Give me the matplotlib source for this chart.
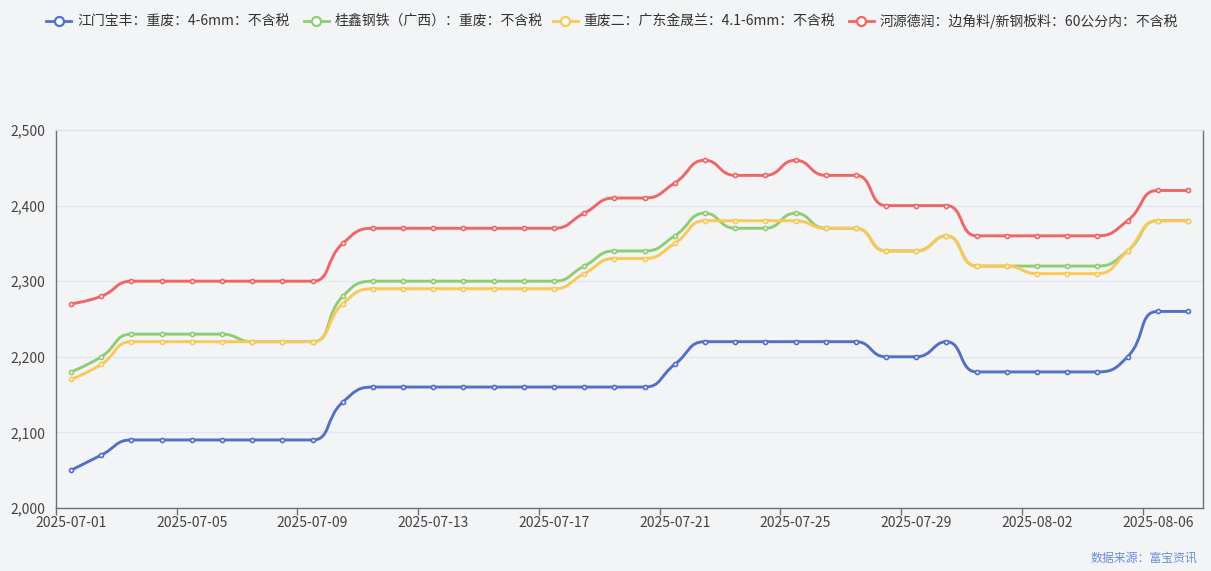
import numpy as np
import pandas as pd
import matplotlib
matplotlib.use('Agg')
import matplotlib.pyplot as plt
from matplotlib.path import Path
from matplotlib.patches import PathPatch
from matplotlib.lines import Line2D

plt.rcParams['font.family'] = ['Noto Sans CJK SC', 'DejaVu Sans']

# 数据
dates = pd.date_range('2025-07-01', '2025-08-07').strftime('%Y-%m-%d').tolist()

series_names = [
    '江门宝丰：重废：4-6mm：不含税',
    '桂鑫钢铁（广西）：重废：不含税',
    '重废二：广东金晟兰：4.1-6mm：不含税',
    '河源德润：边角料/新钢板料：60公分内：不含税',
]

jiangmen = [2050, 2070, 2090, 2090, 2090, 2090, 2090, 2090, 2090, 2140,
            2160, 2160, 2160, 2160, 2160, 2160, 2160, 2160, 2160, 2160,
            2190, 2220, 2220, 2220, 2220, 2220, 2220, 2200, 2200, 2220,
            2180, 2180, 2180, 2180, 2180, 2200, 2260, 2260]
guixin = [2180, 2200, 2230, 2230, 2230, 2230, 2220, 2220, 2220, 2280,
          2300, 2300, 2300, 2300, 2300, 2300, 2300, 2320, 2340, 2340,
          2360, 2390, 2370, 2370, 2390, 2370, 2370, 2340, 2340, 2360,
          2320, 2320, 2320, 2320, 2320, 2340, 2380, 2380]
zhongfei2 = [2170, 2190, 2220, 2220, 2220, 2220, 2220, 2220, 2220, 2270,
             2290, 2290, 2290, 2290, 2290, 2290, 2290, 2310, 2330, 2330,
             2350, 2380, 2380, 2380, 2380, 2370, 2370, 2340, 2340, 2360,
             2320, 2320, 2310, 2310, 2310, 2340, 2380, 2380]
heyuan = [2270, 2280, 2300, 2300, 2300, 2300, 2300, 2300, 2300, 2350,
          2370, 2370, 2370, 2370, 2370, 2370, 2370, 2390, 2410, 2410,
          2430, 2460, 2440, 2440, 2460, 2440, 2440, 2400, 2400, 2400,
          2360, 2360, 2360, 2360, 2360, 2380, 2420, 2420]

colors = ['#5470c6', '#91cc75', '#fac858', '#ee6666']
all_series = [jiangmen, guixin, zhongfei2, heyuan]

W, H = 1211, 571
bg = '#f3f4f6'


# 仿 echarts 的平滑曲线（贝塞尔控制点）
def smooth_path(xs, ys, sx, sy, smooth=0.5):
    X = np.asarray(xs, float) * sx
    Y = np.asarray(ys, float) * sy
    n = len(X)
    verts = [(X[0], Y[0])]
    codes = [Path.MOVETO]
    cpx0, cpy0 = X[0], Y[0]
    for k in range(1, n):
        x, y = X[k], Y[k]
        if k == n - 1:
            cpx1, cpy1 = x, y
            ncx, ncy = x, y
        else:
            px, py = X[k - 1], Y[k - 1]
            nx, ny = X[k + 1], Y[k + 1]
            vx, vy = nx - px, ny - py
            lp = np.hypot(x - px, y - py)
            ln = np.hypot(nx - x, ny - y)
            r = ln / (ln + lp)
            ncx = x + vx * smooth * r
            ncy = y + vy * smooth * r
            ncx = min(max(ncx, min(x, nx)), max(x, nx))
            ncy = min(max(ncy, min(y, ny)), max(y, ny))
            vx, vy = ncx - x, ncy - y
            cpx1 = x - vx * lp / ln
            cpy1 = y - vy * lp / ln
            cpx1 = min(max(cpx1, min(x, px)), max(x, px))
            cpy1 = min(max(cpy1, min(y, py)), max(y, py))
            vx, vy = x - cpx1, y - cpy1
            ncx = x + vx * ln / lp
            ncy = y + vy * ln / lp
        verts += [(cpx0, cpy0), (cpx1, cpy1), (x, y)]
        codes += [Path.CURVE4] * 3
        cpx0, cpy0 = ncx, ncy
    verts = np.array(verts)
    verts[:, 0] /= sx
    verts[:, 1] /= sy
    return Path(verts, codes)


fig = plt.figure(figsize=(W / 100, H / 100), dpi=100, facecolor=bg)
left, right, top, bottom = 56, 1203, 130, 508
ax = fig.add_axes([left / W, 1 - bottom / H, (right - left) / W, (bottom - top) / H])
ax.set_facecolor(bg)

n = len(dates)
x = np.arange(n)
ax.set_xlim(-0.5, n - 0.5)
ax.set_ylim(2000, 2500)

sx = (right - left) / n
sy = (bottom - top) / 500

for i, (vals, c) in enumerate(zip(all_series, colors)):
    p = smooth_path(x, vals, sx, sy)
    ax.add_patch(PathPatch(p, facecolor='none', edgecolor=c, lw=2.1,
                           capstyle='round', joinstyle='round', zorder=3 + i))
    ax.plot(x, vals, 'o', ms=2.9, mfc='white', mec=c, mew=1.2, zorder=3.5 + i)

# 坐标轴
ax.set_yticks(range(2000, 2501, 100))
ax.set_yticklabels([f'{v:,}' for v in range(2000, 2501, 100)])
ax.tick_params(axis='y', length=0, pad=8, labelsize=10, labelcolor='#444444')
ax.grid(axis='y', color='#e0e6f1', lw=1)
ax.set_axisbelow(True)

ax.set_xticks(np.arange(-0.5, n - 0.5, 4))
ax.set_xticklabels([])
ax.set_xticks(np.arange(0, n, 4), minor=True)
ax.set_xticklabels(dates[::4], minor=True)
ax.tick_params(axis='x', which='major', length=5, color='#6e7079', width=1)
ax.tick_params(axis='x', which='minor', length=0, pad=6, labelsize=10, labelcolor='#444444')

for s in ['left', 'right', 'bottom']:
    ax.spines[s].set_color('#6e7079')
    ax.spines[s].set_linewidth(1)
ax.spines['top'].set_color('#e0e0e6')

# 图例
icon_x = [46, 303.5, 552.5, 848.5]
ly = 1 - 21 / H
for name, c, ix in zip(series_names, colors, icon_x):
    fig.add_artist(Line2D([ix / W, (ix + 25) / W], [ly, ly], color=c, lw=2,
                          transform=fig.transFigure))
    fig.add_artist(Line2D([(ix + 12.5) / W], [ly], marker='o', ms=6.5, mfc='white',
                          mec=c, mew=1.6, transform=fig.transFigure))
    fig.text((ix + 31) / W, ly, name, fontsize=10, color='#333333',
             ha='left', va='center')

fig.text(1197 / W, 1 - 558 / H, '数据来源：富宝资讯', fontsize=8.6, color='#6b8ed6',
         ha='right', va='center')

fig.savefig('out.png', dpi=100, facecolor=bg)
